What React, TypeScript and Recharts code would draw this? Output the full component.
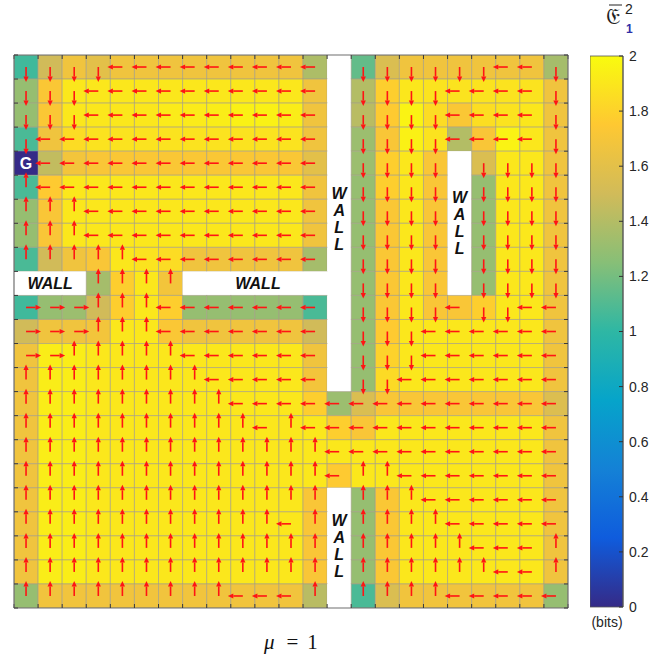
import React from 'react';
import { ScatterChart, Scatter, XAxis, YAxis, BarChart, Bar } from 'recharts';

// ---------- DATA ----------
// Grid of 23 x 23 cells. Direction codes: U/D/L/R arrow, W wall, G goal.
const directionRows: string[] = [
  'DDDD LLLLLLLLL W DDDDDD LL D',
  'DDD LLLLLLLLLL W DDDD LLLL D',
  'DDD LLLLLLLLLL W DDDD LLLL D',
  'D LLLLLLLLLLLL W DDDD LLLL D',
  'G LLLLLLLLLLLL W DDDD W DDDD',
  'U LLLLLLLLLLLL W DDDD W DDDD',
  'UUU LLLLLLLLLL W DDDD W DDDD',
  'UUU LLLLLLLLLL W DDDD W DDDD',
  'UUUUU LLLLLLLL W DDDD W DDDD',
  'WWW UUUU WWWWWWW DDDD W DDDD',
  'RRR UUU LLLLLLL W DDDD L DD LL',
  'RRR UUU LLLLLLL W DDD LLLLLL',
  'RR UUUUU LLLLLL W DDD LLLLLL',
  'UUUUUUUU LLLLL W DD LLLLLLL',
  'UUUUUUUUU LLLLLLLLLLLLLL',
  'UUUUUUUUUU L U LLLLLLLLLLL',
  'UUUUUUUUUUUUU LLLLLLLLLL',
  'UUUUUUUUUUUUU L UU LLLLLLL',
  'UUUUUUUUUUUUU W UUU LLLLLL',
  'UUUUUUUUUUU L U W UUUU LLLLL',
  'UUUUUUUUUUUUU W UUUUU LLL U',
  'UUUUUUUUUUUUU W UUUUUU LL U',
  'UUUUUUUUU LLL U W UUUU LLLLL',
];

const cellValues: number[][] = [
  [1.05, 1.5, 1.67, 1.6, 1.67, 1.67, 1.67, 1.67, 1.67, 1.67, 1.67, 1.67, 1.38, 0, 1.15, 1.55, 1.67, 1.67, 1.67, 1.67, 1.67, 1.67, 1.35],
  [1.3, 1.73, 1.9, 1.9, 1.9, 1.9, 1.9, 1.9, 1.9, 1.9, 1.9, 1.9, 1.67, 0, 1.4, 1.78, 1.9, 1.88, 1.88, 1.88, 1.88, 1.88, 1.67],
  [1.3, 1.73, 1.9, 1.9, 1.9, 1.9, 1.92, 1.92, 1.93, 1.95, 1.95, 1.93, 1.67, 0, 1.42, 1.76, 1.96, 1.85, 1.73, 1.86, 1.88, 1.9, 1.67],
  [1.08, 1.67, 1.85, 1.88, 1.88, 1.88, 1.88, 1.88, 1.88, 1.88, 1.88, 1.88, 1.67, 0, 1.32, 1.72, 1.95, 1.88, 1.4, 1.72, 1.96, 1.9, 1.67],
  [0, 1.45, 1.69, 1.72, 1.73, 1.73, 1.73, 1.73, 1.73, 1.73, 1.73, 1.73, 1.6, 0, 1.32, 1.78, 1.9, 1.72, 0, 1.55, 1.9, 1.9, 1.67],
  [1.08, 1.76, 1.9, 1.9, 1.9, 1.9, 1.9, 1.9, 1.9, 1.9, 1.9, 1.9, 1.67, 0, 1.3, 1.78, 1.9, 1.72, 0, 1.3, 1.9, 1.9, 1.67],
  [1.3, 1.72, 1.9, 1.9, 1.9, 1.9, 1.9, 1.9, 1.9, 1.9, 1.9, 1.9, 1.67, 0, 1.3, 1.73, 1.9, 1.72, 0, 1.3, 1.9, 1.9, 1.67],
  [1.3, 1.72, 1.9, 1.9, 1.9, 1.9, 1.9, 1.9, 1.9, 1.9, 1.9, 1.9, 1.67, 0, 1.3, 1.73, 1.9, 1.72, 0, 1.3, 1.9, 1.9, 1.67],
  [1.08, 1.5, 1.67, 1.72, 1.9, 1.88, 1.85, 1.67, 1.67, 1.67, 1.67, 1.67, 1.35, 0, 1.3, 1.73, 1.9, 1.72, 0, 1.3, 1.9, 1.9, 1.67],
  [0, 0, 0, 1.35, 1.78, 1.9, 1.69, 0, 0, 0, 0, 0, 0, 0, 1.3, 1.73, 1.9, 1.72, 0, 1.3, 1.9, 1.9, 1.67],
  [1.05, 1.3, 1.32, 1.5, 1.78, 1.9, 1.78, 1.3, 1.3, 1.3, 1.3, 1.3, 1.08, 0, 1.3, 1.73, 1.9, 1.72, 1.72, 1.78, 1.9, 1.9, 1.67],
  [1.5, 1.67, 1.67, 1.69, 1.9, 1.9, 1.73, 1.67, 1.67, 1.67, 1.67, 1.67, 1.5, 0, 1.3, 1.76, 1.9, 1.9, 1.9, 1.9, 1.9, 1.9, 1.67],
  [1.67, 1.93, 1.93, 1.9, 1.9, 1.9, 1.9, 1.9, 1.9, 1.9, 1.9, 1.9, 1.67, 0, 1.3, 1.8, 1.9, 1.9, 1.9, 1.9, 1.9, 1.9, 1.67],
  [1.67, 1.93, 1.93, 1.9, 1.9, 1.9, 1.9, 1.9, 1.9, 1.9, 1.9, 1.9, 1.69, 0, 1.3, 1.84, 1.9, 1.9, 1.9, 1.9, 1.9, 1.9, 1.67],
  [1.67, 1.93, 1.93, 1.9, 1.9, 1.9, 1.9, 1.9, 1.9, 1.9, 1.9, 1.9, 1.78, 1.32, 1.55, 1.72, 1.72, 1.72, 1.72, 1.72, 1.72, 1.72, 1.56],
  [1.67, 1.93, 1.93, 1.9, 1.9, 1.9, 1.9, 1.9, 1.9, 1.9, 1.9, 1.9, 1.9, 1.78, 1.72, 1.9, 1.9, 1.9, 1.9, 1.9, 1.9, 1.9, 1.67],
  [1.67, 1.93, 1.93, 1.9, 1.9, 1.9, 1.9, 1.9, 1.9, 1.9, 1.9, 1.9, 1.9, 1.9, 1.9, 1.9, 1.9, 1.9, 1.9, 1.9, 1.9, 1.9, 1.67],
  [1.67, 1.93, 1.93, 1.9, 1.9, 1.9, 1.9, 1.9, 1.9, 1.9, 1.9, 1.9, 1.9, 1.76, 1.9, 1.9, 1.9, 1.9, 1.9, 1.9, 1.9, 1.9, 1.67],
  [1.67, 1.93, 1.93, 1.9, 1.9, 1.9, 1.9, 1.9, 1.9, 1.9, 1.9, 1.9, 1.72, 0, 1.3, 1.73, 1.9, 1.9, 1.9, 1.9, 1.9, 1.9, 1.67],
  [1.67, 1.93, 1.93, 1.9, 1.9, 1.9, 1.9, 1.9, 1.9, 1.9, 1.9, 1.9, 1.72, 0, 1.3, 1.73, 1.9, 1.9, 1.9, 1.9, 1.9, 1.9, 1.67],
  [1.67, 1.93, 1.93, 1.9, 1.9, 1.9, 1.9, 1.9, 1.9, 1.9, 1.9, 1.9, 1.72, 0, 1.3, 1.73, 1.9, 1.9, 1.9, 1.9, 1.9, 1.9, 1.67],
  [1.67, 1.93, 1.93, 1.9, 1.9, 1.9, 1.9, 1.9, 1.9, 1.9, 1.9, 1.9, 1.72, 0, 1.3, 1.73, 1.9, 1.9, 1.9, 1.9, 1.9, 1.9, 1.67],
  [1.3, 1.68, 1.68, 1.68, 1.68, 1.68, 1.68, 1.68, 1.68, 1.68, 1.68, 1.68, 1.42, 0, 1.08, 1.55, 1.68, 1.68, 1.68, 1.68, 1.68, 1.68, 1.3],
];

const boundaryTicks = [0, 1, 2, 3, 4, 5, 6, 7, 8, 9, 10, 11, 12, 13, 14, 15, 16, 17, 18, 19, 20, 21, 22, 23];
const colorbarTicks = [0, 0.2, 0.4, 0.6, 0.8, 1, 1.2, 1.4, 1.6, 1.8, 2];
const colorbarTickLabels = ['0', '0.2', '0.4', '0.6', '0.8', '1', '1.2', '1.4', '1.6', '1.8', '2'];

const wallLabels = [
  { x: 1.5, y: 9.48, text: 'WALL', vertical: false },
  { x: 10.13, y: 9.48, text: 'WALL', vertical: false },
  { x: 13.5, y: 6.82, text: 'WALL', vertical: true },
  { x: 18.5, y: 6.99, text: 'WALL', vertical: true },
  { x: 13.5, y: 20.42, text: 'WALL', vertical: true },
];

// ---------- STYLE / LAYOUT ----------
const PLOT_W = 554;
const PLOT_H = 553;
const N = 23;
const CW = PLOT_W / N;
const CH = PLOT_H / N;
const VMAX = 2;

const PARULA = ['#352a87', '#0f5cdd', '#1481d6', '#06a4ca', '#2eb7a4', '#87bf77', '#d1bb59', '#fec832', '#f9fb0e'];

function hexToRgb(h: string) {
  return [parseInt(h.slice(1, 3), 16), parseInt(h.slice(3, 5), 16), parseInt(h.slice(5, 7), 16)];
}
function parula(t: number) {
  const tt = Math.max(0, Math.min(1, t));
  const s = tt * (PARULA.length - 1);
  const i = Math.min(PARULA.length - 2, Math.floor(s));
  const f = s - i;
  const a = hexToRgb(PARULA[i]);
  const b = hexToRgb(PARULA[i + 1]);
  const c = a.map((av, k) => Math.round(av + (b[k] - av) * f));
  return `rgb(${c[0]},${c[1]},${c[2]})`;
}

const cells: { x: number; y: number; d: string; v: number }[] = [];
directionRows.forEach((row, r) => {
  row.replace(/ /g, '').split('').forEach((d, c) => {
    cells.push({ x: c + 0.5, y: r + 0.5, d, v: cellValues[r][c] });
  });
});
const arrowCells = cells.filter((c) => 'UDLR'.includes(c.d));

const DIR: Record<string, [number, number]> = { U: [0, -1], D: [0, 1], L: [-1, 0], R: [1, 0] };

function CellShape(props: any) {
  const { cx, cy, payload } = props;
  if (cx == null || cy == null) return null;
  const x = cx - CW / 2;
  const y = cy - CH / 2;
  if (payload.d === 'W') {
    return <rect x={x} y={y} width={CW} height={CH} fill="#ffffff" />;
  }
  if (payload.d === 'G') {
    return (
      <g>
        <rect x={x} y={y} width={CW} height={CH} fill={parula(0)} />
        <text x={cx} y={cy} dy="0.36em" textAnchor="middle" fill="#ffffff" fontWeight="bold" fontSize={16} fontFamily="Liberation Sans, Arial, sans-serif">G</text>
      </g>
    );
  }
  return (
    <rect x={x} y={y} width={CW} height={CH} fill={parula(payload.v / VMAX)} stroke="#a39c86" strokeOpacity={0.6} strokeWidth={1} />
  );
}

function ArrowShape(props: any) {
  const { cx, cy, payload } = props;
  if (cx == null || cy == null) return null;
  const [dx, dy] = DIR[payload.d];
  const len = 15;
  const head = 5.5;
  const hw = 2.6;
  const tx = cx + dx * len;
  const ty = cy + dy * len;
  const bx = tx - dx * head;
  const by = ty - dy * head;
  const px = -dy;
  const py = dx;
  const red = '#ff1414';
  return (
    <g>
      <line x1={cx} y1={cy} x2={bx} y2={by} stroke={red} strokeWidth={1.6} />
      <polygon points={`${tx},${ty} ${bx + px * hw},${by + py * hw} ${bx - px * hw},${by - py * hw}`} fill={red} />
    </g>
  );
}

function WallLabelShape(props: any) {
  const { cx, cy, payload } = props;
  if (cx == null || cy == null) return null;
  const common = {
    fontFamily: 'Liberation Sans, Arial, sans-serif',
    fontWeight: 'bold' as const,
    fontStyle: 'italic' as const,
    fontSize: 16,
    fill: '#111111',
    textAnchor: 'middle' as const,
  };
  if (!payload.vertical) {
    return <text x={cx} y={cy} dy="0.36em" {...common}>{payload.text}</text>;
  }
  const letters = payload.text.split('');
  const step = 17;
  return (
    <text x={cx} y={cy} {...common}>
      {letters.map((l: string, i: number) => (
        <tspan key={i} x={cx} y={cy + (i - (letters.length - 1) / 2) * step} dy="0.36em">{l}</tspan>
      ))}
    </text>
  );
}

function ColorbarTick(props: any) {
  const { x, y, payload, index } = props;
  const idx = colorbarTicks.indexOf(payload.value);
  const label = idx >= 0 ? colorbarTickLabels[idx] : String(payload.value);
  return (
    <g key={index}>
      <line x1={x - 4} y1={y} x2={x} y2={y} stroke="#333" strokeWidth={1} />
      <text x={x + 6} y={y} dy="0.35em" textAnchor="start" fontSize={14} fill="#262626" fontFamily="Liberation Sans, Arial, sans-serif">
        {label}
      </text>
    </g>
  );
}

const axisCommon = {
  type: 'number' as const,
  domain: [0, 23] as [number, number],
  ticks: boundaryTicks,
  interval: 0 as const,
  mirror: true,
  allowDataOverflow: true,
  tickSize: 4,
  tickFormatter: () => '',
  axisLine: { stroke: '#6f6f6f', strokeWidth: 1.2 },
  tickLine: { stroke: '#3a3a3a', strokeWidth: 1 },
  zIndex: 800,
};

export default function App() {
  const colorbarData = [{ name: 'cb', value: VMAX }];
  return (
    <div style={{ position: 'relative', width: 654, height: 655 }}>
      <style>{'html,body{margin:0;padding:0;overflow:hidden;}'}</style>
      <div style={{ position: 'absolute', left: 0, top: 0 }}>
        <ScatterChart width={580} height={620} margin={{ top: 55, left: 14, right: 12, bottom: 12 }}>
          <Scatter data={cells} xAxisId="b" yAxisId="l" shape={<CellShape />} isAnimationActive={false} />
          <Scatter data={arrowCells} xAxisId="b" yAxisId="l" shape={<ArrowShape />} isAnimationActive={false} />
          <Scatter data={wallLabels} xAxisId="b" yAxisId="l" shape={<WallLabelShape />} isAnimationActive={false} />
          <XAxis xAxisId="b" dataKey="x" orientation="bottom" {...axisCommon} />
          <XAxis xAxisId="t" dataKey="x" orientation="top" {...axisCommon} />
          <YAxis yAxisId="l" dataKey="y" orientation="left" reversed {...axisCommon} />
          <YAxis yAxisId="r" dataKey="y" orientation="right" reversed {...axisCommon} />
        </ScatterChart>
      </div>
      <div style={{ position: 'absolute', left: 590, top: 46 }}>
        <BarChart width={64} height={571} data={colorbarData} margin={{ top: 10, right: 0, bottom: 10, left: 0 }} barCategoryGap={0}>
          <defs>
            <linearGradient id="parulaGrad" x1="0" y1="1" x2="0" y2="0">
              {PARULA.map((c, i) => (
                <stop key={i} offset={`${(i / (PARULA.length - 1)) * 100}%`} stopColor={c} />
              ))}
            </linearGradient>
          </defs>
          <XAxis dataKey="name" hide />
          <YAxis
            orientation="right"
            type="number"
            domain={[0, VMAX]}
            ticks={colorbarTicks}
            interval={0}
            width={31}
            tickSize={0}
            tickMargin={0}
            axisLine={{ stroke: '#555' }}
            tickLine={false}
            tick={<ColorbarTick />}
          />
          <Bar dataKey="value" fill="url(#parulaGrad)" stroke="#555" strokeWidth={0.8} isAnimationActive={false} />
        </BarChart>
      </div>
      <svg width={654} height={655} style={{ position: 'absolute', left: 0, top: 0, pointerEvents: 'none' }}>
        {/* colour-bar title */}
        <line x1={609} y1={5} x2={622} y2={5} stroke="#222" strokeWidth={1} />
        <text x={606} y={24} fontSize={23} fill="#222" fontFamily="DejaVu Serif, serif">𝔈</text>
        <text x={625} y={14} fontSize={14} fill="#222" fontFamily="Liberation Sans, Arial, sans-serif">2</text>
        <text x={626} y={33} fontSize={12} fill="#2f2fa8" fontWeight="bold" fontFamily="Liberation Sans, Arial, sans-serif">1</text>
        <text x={607} y={627} fontSize={14} fill="#262626" fontFamily="Liberation Sans, Arial, sans-serif" textAnchor="middle">(bits)</text>
        {/* x label */}
        <text x={264} y={649} fontSize={21} fontStyle="italic" fill="#111" fontFamily="Liberation Serif, serif">μ</text>
        <text x={292.5} y={649} fontSize={21} fill="#111" fontFamily="Liberation Serif, serif" textAnchor="middle">=</text>
        <text x={312.5} y={649} fontSize={21} fill="#111" fontFamily="Liberation Serif, serif" textAnchor="middle">1</text>
      </svg>
    </div>
  );
}
